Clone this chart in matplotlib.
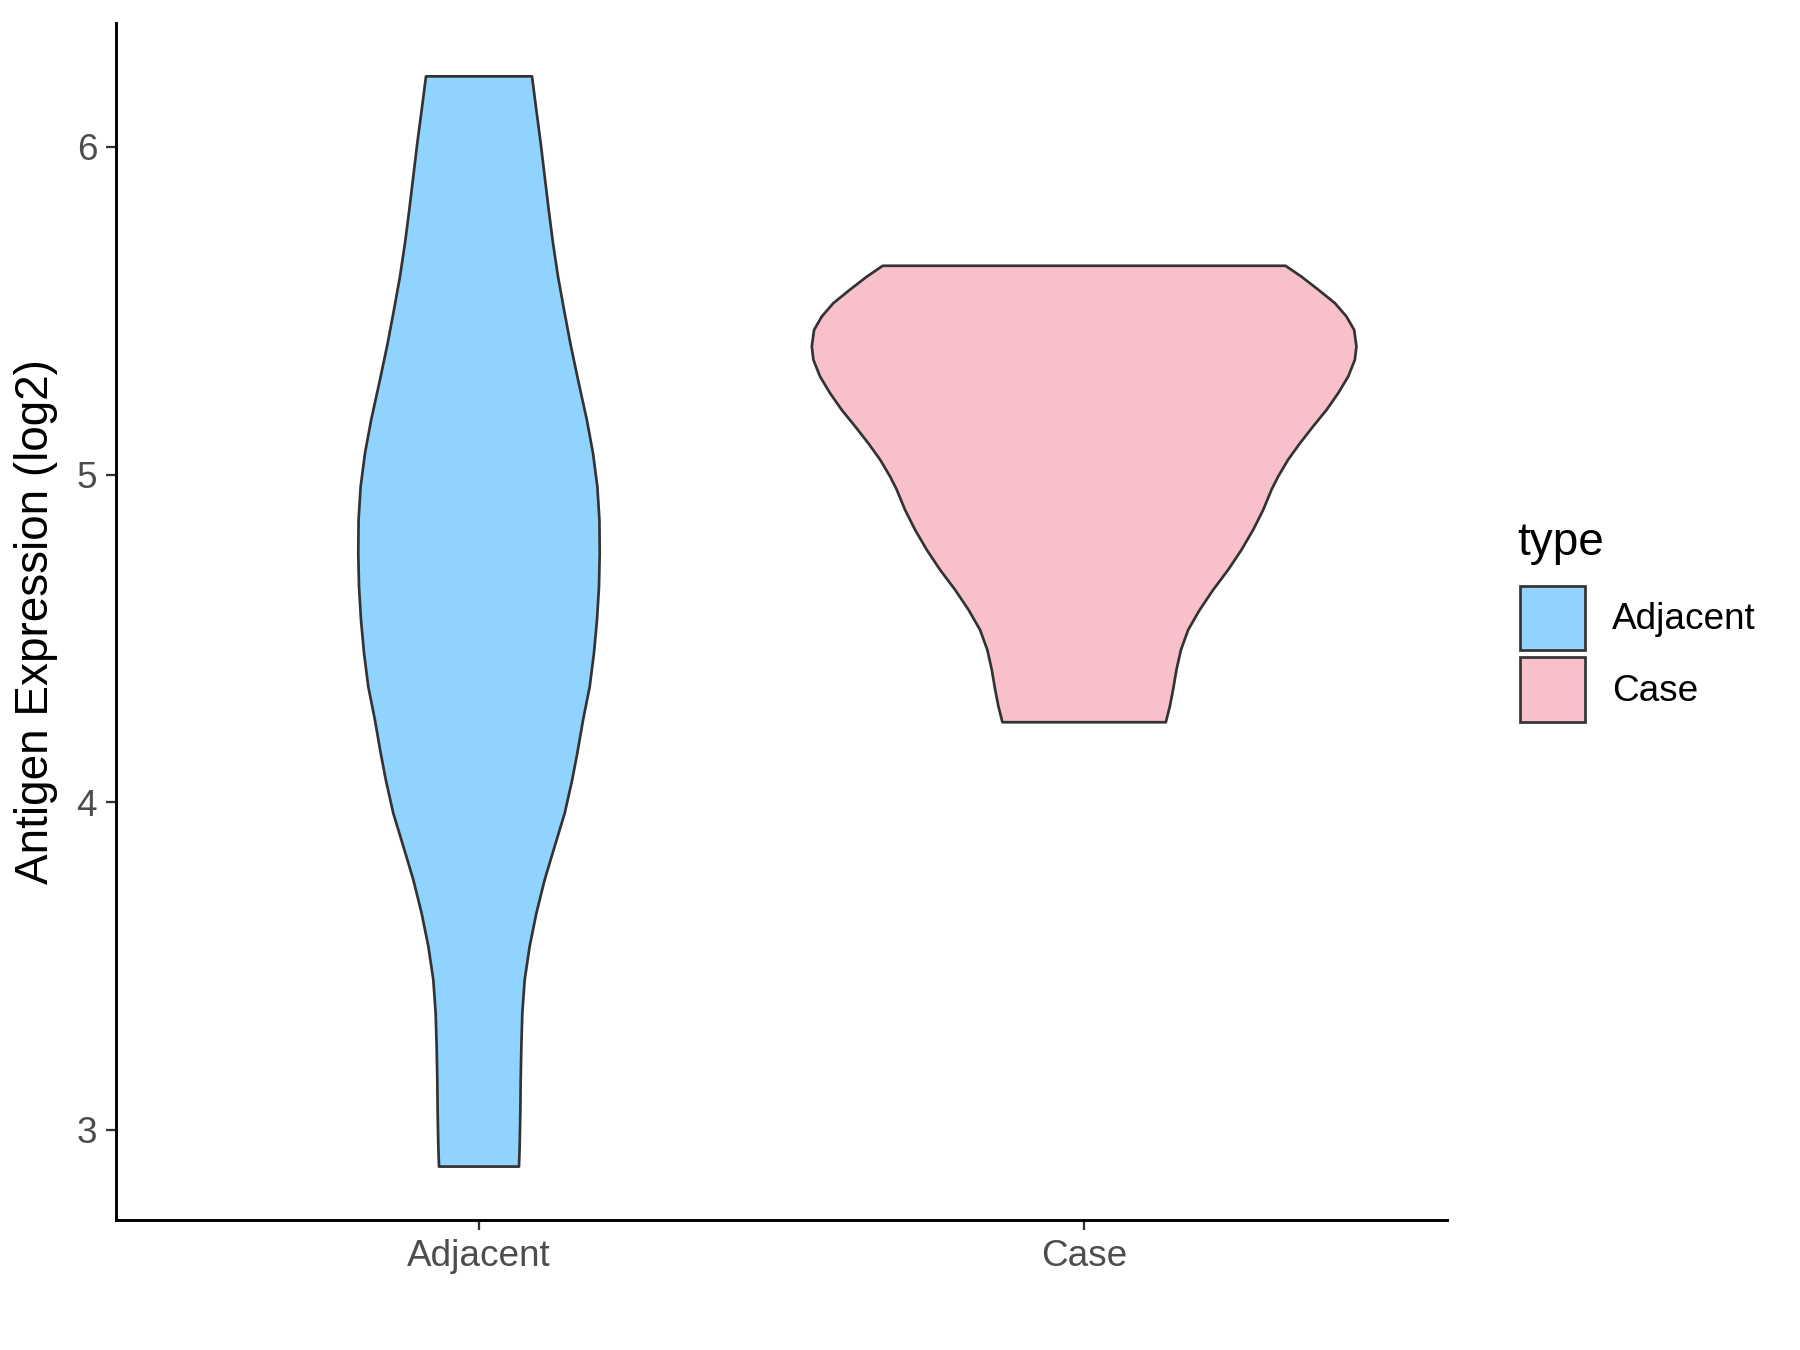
import numpy as np
import matplotlib
matplotlib.use("Agg")
import matplotlib.pyplot as plt
from matplotlib.patches import Patch

plt.rcParams['font.family'] = ['Liberation Sans', 'DejaVu Sans']

groups = ["Adjacent", "Case"]
colors = ["#8FD3FE", "#F7C0CB"]

# violin outlines: expression level and half width (x units)
adj_y = [6.215, 6.113, 6.011, 5.909, 5.808, 5.706, 5.604, 5.503, 5.401,
         5.299, 5.197, 5.167, 5.065, 4.963, 4.862, 4.760, 4.658, 4.556,
         4.455, 4.353, 4.251, 4.150, 4.068, 3.966, 3.865, 3.763, 3.661,
         3.560, 3.458, 3.356, 3.254, 3.153, 3.051, 2.949, 2.888]
adj_w = [0.0876, 0.0947, 0.1020, 0.1086, 0.1152, 0.1223, 0.1306, 0.1405,
         0.1509, 0.1625, 0.1746, 0.1782, 0.1884, 0.1956, 0.1990, 0.1995,
         0.1983, 0.1950, 0.1900, 0.1830, 0.1720, 0.1625, 0.1540, 0.1416,
         0.1250, 0.1085, 0.0948, 0.0837, 0.0755, 0.0716, 0.0700, 0.0689,
         0.0683, 0.0672, 0.0661]

case_y = [5.637, 5.604, 5.564, 5.523, 5.482, 5.441, 5.391, 5.350, 5.299,
          5.248, 5.197, 5.147, 5.095, 5.045, 4.994, 4.955, 4.892, 4.831,
          4.770, 4.709, 4.648, 4.587, 4.526, 4.465, 4.404, 4.343, 4.292,
          4.244]
case_w = [0.3328, 0.3590, 0.3870, 0.4144, 0.4336, 0.4463, 0.4500, 0.4474,
          0.4364, 0.4198, 0.4005, 0.3785, 0.3565, 0.3370, 0.3207, 0.3100,
          0.2959, 0.2793, 0.2600, 0.2380, 0.2132, 0.1910, 0.1720, 0.1600,
          0.1526, 0.1470, 0.1416, 0.1350]

profiles = [(adj_y, adj_w), (case_y, case_w)]

fig = plt.figure(figsize=(12, 9), dpi=150)
ax = fig.add_axes([0.0644, 0.0963, 0.804 - 0.0644, 0.983 - 0.0963])

for i, (ys, ws) in enumerate(profiles):
    pos = i + 1
    ys = np.array(ys)
    ws = np.array(ws)
    xs = np.concatenate([pos - ws, (pos + ws)[::-1]])
    yy = np.concatenate([ys, ys[::-1]])
    ax.fill(xs, yy, facecolor=colors[i], edgecolor="#333333", linewidth=1.3,
            joinstyle="round")

ax.set_xlim(0.4, 2.6)
ax.set_ylim(2.725, 6.378)
ax.set_xticks([1, 2])
ax.set_xticklabels(groups)
ax.set_yticks([3, 4, 5, 6])
ax.set_ylabel("Antigen Expression (log2)", fontsize=22, labelpad=9)

for s in ["top", "right"]:
    ax.spines[s].set_visible(False)
for s in ["left", "bottom"]:
    ax.spines[s].set_linewidth(1.4)
    ax.spines[s].set_color("black")
ax.tick_params(length=5, width=1.1, color="#333333", labelcolor="#4D4D4D",
               labelsize=17.7, pad=4)

# legend: title as its own text so the gap to the keys can be set
fig.text(0.8431, 0.5977, "type", fontsize=22, ha="left", va="center")
handles = [Patch(facecolor=c, edgecolor="#333333", linewidth=1.3, label=g)
           for g, c in zip(groups, colors)]
fig.legend(handles=handles, loc="upper left",
           bbox_to_anchor=(0.8342, 0.5798), frameon=False, fontsize=17.7,
           handlelength=1.774, handleheight=2.31,
           labelspacing=0.19, handletextpad=0.72, borderpad=0)

fig.savefig("out.png", dpi=150)
